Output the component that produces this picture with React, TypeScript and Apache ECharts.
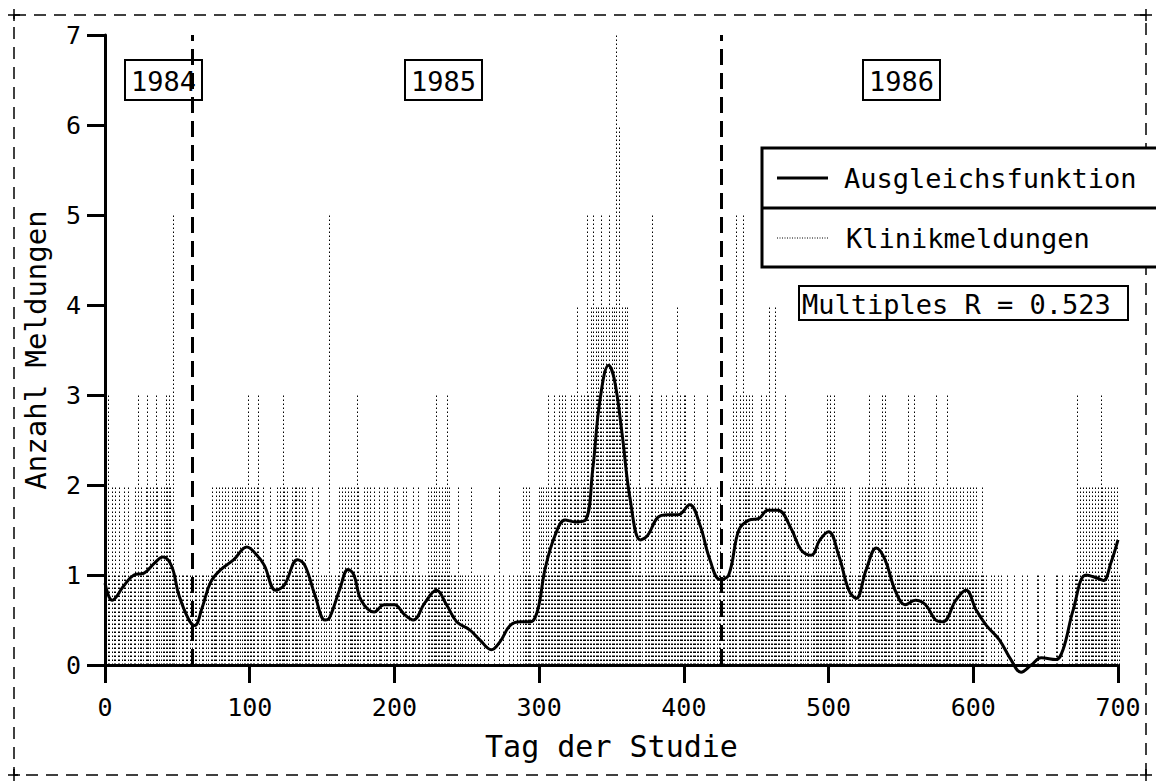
import React, { useEffect, useRef } from "react";
import * as echarts from "echarts";

// Daily counts of clinic reports ("Klinikmeldungen"), one digit per day, 50 days per row (days 0..700)
const dayRows: string[] = [
  "12310212012012102110120312102312020321021" + "232321511" + "0",
  "10110110110110101101101211202121202112022120212131",
  "21202301211012010121213212102122121202111021012010",
  "10105100101202120212121321012021201210211021201012",
  "12010212010121021010102121213121212312101102101010",
  "10201010100100100010020010001001001010212121010112",
  "21212312132123132321231324213232531452434354243534",
  "34736342434231212132102121351212131213122312413213",
  "31212131212121031201102120110112131502315232313121",
  "21321231412141212123121202120121021201212121212131",
  "31232121212101210101212121231212121231322121021212",
  "12123121321202121021121312102113120212012121021212",
  "12101210100101001010001000010000010010000001100010",
  "00000011001000010101130212121212121213212120212120",
  "1",
];
const dailyCounts: number[] = dayRows.join("").split("").map(Number);

// Smoothed fit ("Ausgleichsfunktion")
const smoothDays: number[] = [
  0, 5, 13, 20, 27, 34, 40, 46, 51, 58, 62, 67, 73, 80, 89, 98, 105, 110, 118, 124,
  133, 138, 145, 152, 155, 162, 168, 172, 177, 186, 193, 200, 207, 213, 221, 229, 236, 243, 252, 259,
  267, 273, 280, 287, 294, 299, 304, 311, 318, 325, 332, 337, 342, 348, 352, 357, 363, 370, 375, 382,
  389, 396, 404, 411, 418, 425, 431, 438, 445, 452, 458, 465, 474, 481, 488, 494, 500, 507, 514, 519,
  526, 533, 539, 546, 553, 560, 567, 574, 579, 588, 595, 602, 609, 618, 626, 633, 640, 647, 657, 662,
  669, 678, 685, 690, 695, 700,
];
const smoothValues: number[] = [
  0.91, 0.72, 0.88, 1.0, 1.02, 1.13, 1.2, 1.1, 0.78, 0.5, 0.44, 0.63, 0.92, 1.06, 1.17, 1.31, 1.22, 1.11, 0.83, 0.89,
  1.17, 1.11, 0.78, 0.5, 0.52, 0.83, 1.06, 1.0, 0.72, 0.59, 0.67, 0.67, 0.56, 0.5, 0.69, 0.83, 0.67, 0.48, 0.39, 0.28,
  0.17, 0.26, 0.44, 0.48, 0.48, 0.61, 1.06, 1.44, 1.61, 1.59, 1.61, 2.17, 2.94, 3.33, 3.17, 2.61, 1.83, 1.39, 1.44, 1.64,
  1.67, 1.67, 1.78, 1.56, 1.17, 0.95, 1.0, 1.5, 1.61, 1.63, 1.72, 1.72, 1.52, 1.28, 1.22, 1.39, 1.48, 1.22, 0.83, 0.74,
  1.06, 1.3, 1.17, 0.83, 0.67, 0.72, 0.67, 0.5, 0.48, 0.72, 0.83, 0.61, 0.44, 0.28, 0.06, -0.08, 0.0, 0.08, 0.06, 0.17,
  0.61, 1.0, 0.97, 0.94, 1.13, 1.39,
];

const yearLineDays: number[] = [60, 426];
const yearLabels: string[] = ["1984", "1985", "1986"];
const legendNames: string[] = ["Ausgleichsfunktion", "Klinikmeldungen"];
const statText = "Multiples R = 0.523";
const xTitle = "Tag der Studie";
const yTitle = "Anzahl Meldungen";

const FONT = "DejaVu Sans Mono";

export default function App() {
  const ref = useRef<HTMLDivElement>(null);

  useEffect(() => {
    document.body.style.margin = "0";
    const chart = echarts.init(ref.current!, undefined, { renderer: "svg" });

    const barData = dailyCounts
      .map((v, i) => [i, v])
      .filter((d) => d[1] > 0);
    const lineData = smoothDays.map((d, i) => [d, smoothValues[i]]);

    const yearBox = (label: string, x: number) => ({
      type: "group",
      z: 50,
      children: [
        {
          type: "rect",
          shape: { x, y: 60, width: 77, height: 40 },
          style: { fill: "#fff", stroke: "#000", lineWidth: 2 },
        },
        {
          type: "text",
          x: x + 38.5,
          y: 81,
          style: {
            text: label,
            font: `27px '${FONT}'`,
            fill: "#000",
            align: "center",
            verticalAlign: "middle",
          },
        },
      ],
    });

    const frameDash = [12, 8];
    const plus = (cx: number, cy: number) => [
      { type: "line", shape: { x1: cx - 6, y1: cy, x2: cx + 6, y2: cy }, style: { stroke: "#000", lineWidth: 1.5 } },
      { type: "line", shape: { x1: cx, y1: cy - 6, x2: cx, y2: cy + 6 }, style: { stroke: "#000", lineWidth: 1.5 } },
    ];

    chart.setOption({
      animation: false,
      backgroundColor: "#fff",
      grid: { left: 105, right: 38, top: 35, bottom: 116, containLabel: false },
      xAxis: {
        type: "value",
        min: 0,
        max: 700,
        interval: 100,
        axisLine: { show: true, onZero: false, lineStyle: { color: "#000", width: 3 } },
        axisTick: { show: true, length: 18, lineStyle: { color: "#000", width: 3 } },
        axisLabel: { fontFamily: FONT, fontSize: 25, color: "#000", margin: 30 },
        splitLine: { show: false },
        name: xTitle,
        nameLocation: "middle",
        nameGap: 66,
        nameTextStyle: { fontFamily: FONT, fontSize: 30, color: "#000" },
      },
      yAxis: {
        type: "value",
        min: 0,
        max: 7,
        interval: 1,
        axisLine: { show: true, lineStyle: { color: "#000", width: 3 } },
        axisTick: { show: true, length: 18, lineStyle: { color: "#000", width: 3 } },
        axisLabel: { fontFamily: FONT, fontSize: 25, color: "#000", margin: 24 },
        splitLine: { show: false },
        name: yTitle,
        nameLocation: "middle",
        nameGap: 55,
        nameRotate: 90,
        nameTextStyle: { fontFamily: FONT, fontSize: 29, color: "#000" },
      },
      series: [
        {
          name: legendNames[1],
          type: "custom",
          data: barData,
          z: 2,
          renderItem: (params: any, api: any) => {
            const x = api.value(0);
            const v = api.value(1);
            const p0 = api.coord([x, 0]);
            const p1 = api.coord([x, v]);
            const px = Math.round(p0[0]) + 0.5;
            return {
              type: "line",
              shape: { x1: px, y1: p0[1], x2: px, y2: p1[1] },
              style: { stroke: "#000", lineWidth: 1, lineDash: [1.5, 2.5] },
            };
          },
        },
        {
          name: legendNames[0],
          type: "line",
          data: lineData,
          smooth: 0.4,
          showSymbol: false,
          clip: false,
          z: 5,
          lineStyle: { color: "#000", width: 3 },
          markLine: {
            silent: true,
            symbol: ["none", "none"],
            label: { show: false },
            lineStyle: { color: "#000", width: 3, type: [16, 8] },
            data: yearLineDays.map((d) => ({ xAxis: d })),
          },
        },
      ],
      graphic: [
        // dashed outer frame
        {
          type: "rect",
          z: 0,
          shape: { x: 14, y: 15, width: 1132, height: 760 },
          style: { fill: "none", stroke: "#000", lineWidth: 1.5, lineDash: frameDash },
        },
        ...plus(14, 15),
        ...plus(1146, 15),
        ...plus(14, 775),
        ...plus(1146, 775),
        yearBox(yearLabels[0], 125),
        yearBox(yearLabels[1], 405),
        yearBox(yearLabels[2], 863),
        // legend box
        {
          type: "rect",
          z: 50,
          shape: { x: 762, y: 148, width: 420, height: 119 },
          style: { fill: "#fff", stroke: "#000", lineWidth: 3 },
        },
        {
          type: "line",
          z: 51,
          shape: { x1: 762, y1: 208, x2: 1156, y2: 208 },
          style: { stroke: "#000", lineWidth: 3 },
        },
        {
          type: "line",
          z: 51,
          shape: { x1: 777, y1: 178, x2: 828, y2: 178 },
          style: { stroke: "#000", lineWidth: 3 },
        },
        {
          type: "text",
          z: 51,
          x: 844,
          y: 178,
          style: { text: legendNames[0], font: `27px '${FONT}'`, fill: "#000", verticalAlign: "middle" },
        },
        {
          type: "line",
          z: 51,
          shape: { x1: 777, y1: 238, x2: 828, y2: 238 },
          style: { stroke: "#000", lineWidth: 1, lineDash: [1, 1.5] },
        },
        {
          type: "text",
          z: 51,
          x: 846,
          y: 238,
          style: { text: legendNames[1], font: `27px '${FONT}'`, fill: "#000", verticalAlign: "middle" },
        },
        // statistic box
        {
          type: "rect",
          z: 50,
          shape: { x: 799, y: 286, width: 329, height: 34 },
          style: { fill: "#fff", stroke: "#000", lineWidth: 2 },
        },
        {
          type: "text",
          z: 51,
          x: 802,
          y: 304,
          style: { text: statText, font: `27px '${FONT}'`, fill: "#000", verticalAlign: "middle" },
        },
      ],
    });

    return () => chart.dispose();
  }, []);

  return (
    <div
      ref={ref}
      style={{ position: "fixed", left: 0, top: 0, width: 1156, height: 781, background: "#fff" }}
    />
  );
}
